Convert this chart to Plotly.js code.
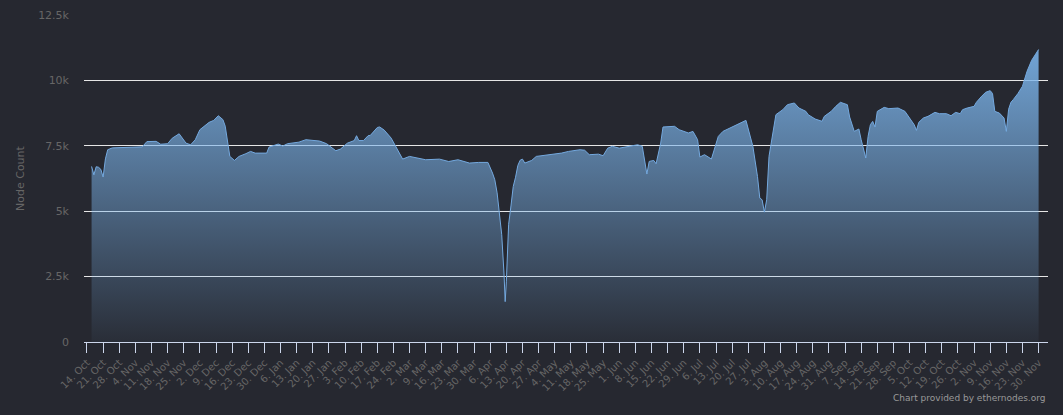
<!DOCTYPE html>
<html>
<head>
<meta charset="utf-8">
<script src="https://cdn.plot.ly/plotly-3.0.1.min.js"></script>
<style>
  html, body { margin: 0; padding: 0; background: #262830; }
  #chart { width: 1063px; height: 415px; }
</style>
</head>
<body>
<div id="chart"></div>
<script>
const dates = [
  '2019-10-16','2019-10-17','2019-10-18','2019-10-19','2019-10-20','2019-10-21','2019-10-22','2019-10-23','2019-10-25','2019-10-30',
  '2019-11-03','2019-11-07','2019-11-09','2019-11-13','2019-11-15','2019-11-18','2019-11-20','2019-11-23','2019-11-26','2019-11-28','2019-11-30',
  '2019-12-02','2019-12-06','2019-12-08','2019-12-10','2019-12-12','2019-12-13','2019-12-14','2019-12-15','2019-12-17','2019-12-19','2019-12-22','2019-12-24','2019-12-26','2019-12-31',
  '2020-01-01','2020-01-05','2020-01-07','2020-01-09','2020-01-14','2020-01-17','2020-01-23','2020-01-26','2020-01-30',
  '2020-02-01','2020-02-04','2020-02-07','2020-02-08','2020-02-09','2020-02-11','2020-02-13','2020-02-14','2020-02-17','2020-02-18','2020-02-20','2020-02-23','2020-02-26','2020-02-28',
  '2020-03-02','2020-03-06','2020-03-09','2020-03-15','2020-03-19','2020-03-23','2020-03-28',
  '2020-04-01','2020-04-05','2020-04-07','2020-04-08','2020-04-09','2020-04-10','2020-04-11','2020-04-12','2020-04-12 12:00','2020-04-13','2020-04-14','2020-04-15','2020-04-16','2020-04-17','2020-04-18','2020-04-19','2020-04-20','2020-04-21','2020-04-24','2020-04-26',
  '2020-05-02','2020-05-07','2020-05-10','2020-05-15','2020-05-17','2020-05-19','2020-05-23','2020-05-25','2020-05-27','2020-05-29',
  '2020-06-01','2020-06-05','2020-06-09','2020-06-11','2020-06-12','2020-06-13','2020-06-14','2020-06-16','2020-06-17','2020-06-19','2020-06-20','2020-06-23','2020-06-25','2020-06-27',
  '2020-07-01','2020-07-03','2020-07-05','2020-07-06','2020-07-08','2020-07-11','2020-07-14','2020-07-16','2020-07-19','2020-07-21','2020-07-23','2020-07-26','2020-07-29','2020-07-31',
  '2020-08-01','2020-08-02','2020-08-03','2020-08-04','2020-08-05','2020-08-08','2020-08-11','2020-08-13','2020-08-16','2020-08-18','2020-08-21','2020-08-22','2020-08-25','2020-08-28','2020-08-29',
  '2020-09-01','2020-09-03','2020-09-05','2020-09-08','2020-09-09','2020-09-11','2020-09-13','2020-09-14','2020-09-15','2020-09-16','2020-09-17','2020-09-18','2020-09-19','2020-09-20','2020-09-21','2020-09-24','2020-09-26','2020-09-30',
  '2020-10-03','2020-10-05','2020-10-07','2020-10-08','2020-10-09','2020-10-11','2020-10-13','2020-10-16','2020-10-18','2020-10-21','2020-10-23','2020-10-25','2020-10-27','2020-10-28','2020-10-30',
  '2020-11-02','2020-11-03','2020-11-05','2020-11-07','2020-11-09','2020-11-10','2020-11-11','2020-11-13','2020-11-15','2020-11-16','2020-11-17','2020-11-18','2020-11-19','2020-11-21','2020-11-23','2020-11-25','2020-11-27','2020-11-28','2020-11-30'
];
const nodeCount = [
  6711,6390,6700,6680,6600,6305,7000,7350,7420,7430,
  7440,7460,7660,7670,7560,7580,7790,7960,7600,7540,7730,
  8115,8396,8470,8650,8500,8250,7730,7094,6940,7094,7200,7285,7220,7220,
  7450,7567,7490,7580,7640,7733,7680,7580,7311,
  7375,7600,7700,7886,7700,7700,7886,7900,8200,8220,8100,7796,7285,6992,
  7094,7030,6967,6990,6900,6967,6840,
  6865,6865,6457,6200,5700,5000,4100,2600,1543,2300,4500,5200,5945,6300,6750,6950,6990,6840,6940,7094,
  7160,7222,7285,7350,7330,7160,7180,7120,7410,7480,
  7410,7480,7540,7480,6900,6420,6903,6940,6814,7605,8219,8219,8245,8115,
  7990,8050,7733,7070,7160,6994,7860,8050,8180,8270,8372,8472,7476,6330,
  5500,5437,4965,5437,7094,8690,8881,9072,9137,8944,8817,8690,8525,8437,8625,
  8817,9008,9162,9072,8600,8050,8142,7733,7350,7032,7860,8307,8433,8219,8816,8969,8920,8944,
  8816,8563,8307,8090,8396,8563,8625,8778,8727,8727,8650,8778,8727,8880,8944,
  9008,9163,9367,9545,9609,9500,8816,8750,8563,8050,8900,9163,9265,9494,9775,10350,10770,10900,11180
];
const yTickVals = [0, 2500, 5000, 7500, 10000, 12500];
const yTickText = ['0', '2.5k', '5k', '7.5k', '10k', '12.5k'];
const yTitle = 'Node Count';
const credit = 'Chart provided by ethernodes.org';

const font = 'DejaVu Sans, Verdana, sans-serif';

const trace = {
  type: 'scatter',
  mode: 'lines',
  x: dates,
  y: nodeCount,
  line: { color: '#74a9df', width: 1 },
  fill: 'tozeroy',
  fillgradient: {
    type: 'vertical',
    start: 0,
    stop: 11180,
    colorscale: [[0, 'rgba(124,181,236,0.04)'], [1, 'rgba(124,181,236,0.88)']]
  },
  hoverinfo: 'skip'
};

const layout = {
  width: 1063,
  height: 415,
  margin: { l: 84, r: 15, t: 15, b: 73 },
  paper_bgcolor: '#262830',
  plot_bgcolor: '#262830',
  showlegend: false,
  font: { family: font, color: '#666666' },
  xaxis: {
    type: 'date',
    range: ['2019-10-12 17:00', '2020-12-04 02:00'],
    tick0: '2019-10-14',
    dtick: 7 * 86400000,
    tickformat: '%-d. %b',
    tickangle: -45,
    tickfont: { size: 10, color: '#666666', family: font },
    showgrid: false,
    zeroline: false,
    showline: true,
    linecolor: '#ccd6eb',
    linewidth: 1,
    ticks: 'outside',
    ticklen: 10,
    tickcolor: '#ccd6eb',
    tickwidth: 1,
    fixedrange: true
  },
  yaxis: {
    range: [0, 12500],
    tickvals: yTickVals,
    ticktext: yTickText,
    tickfont: { size: 11, color: '#666666', family: font },
    showgrid: true,
    gridcolor: '#e6e6e6',
    gridwidth: 1,
    zeroline: false,
    showline: false,
    ticks: '',
    ticklabelstandoff: 14,
    fixedrange: true
  },
  annotations: [
    {
      text: yTitle,
      xref: 'paper', yref: 'paper',
      x: (20 - 84) / 964, y: (342 - 178) / 327,
      xanchor: 'center', yanchor: 'middle',
      textangle: -90,
      showarrow: false,
      font: { size: 11, color: '#666666', family: font }
    },
    {
      text: credit,
      xref: 'paper', yref: 'paper',
      x: 1, y: (342 - 398) / 327,
      xanchor: 'right', yanchor: 'middle',
      showarrow: false,
      font: { size: 9, color: '#999999', family: font }
    }
  ]
};

Plotly.newPlot('chart', [trace], layout, { displayModeBar: false, staticPlot: true });
</script>
</body>
</html>
